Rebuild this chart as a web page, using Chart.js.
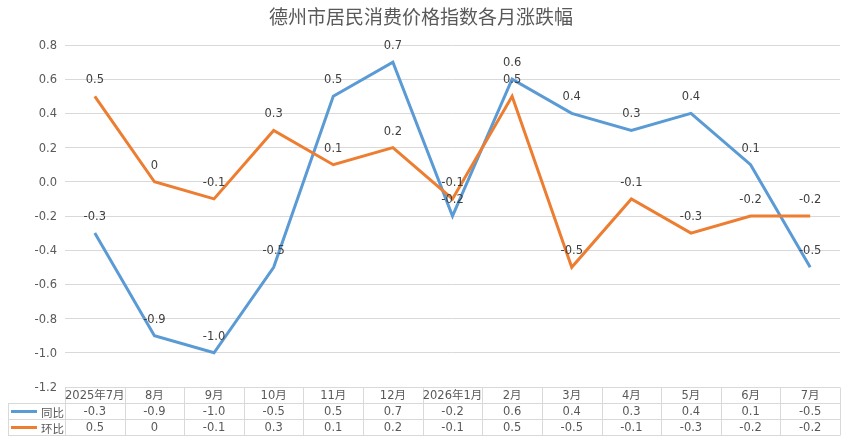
<!DOCTYPE html>
<html><head><meta charset="utf-8">
<script src="https://cdn.jsdelivr.net/npm/chart.js@4"></script>
<style>html,body{margin:0;padding:0;background:#fff}#w{width:849px;height:447px}</style>
</head><body><div id="w"><canvas id="c"></canvas></div>
<script>
const categories = ['2025年7月','8月','9月','10月','11月','12月','2026年1月','2月','3月','4月','5月','6月','7月'];
const yoy = [-0.3,-0.9,-1.0,-0.5,0.5,0.7,-0.2,0.6,0.4,0.3,0.4,0.1,-0.5];
const mom = [0.5,0,-0.1,0.3,0.1,0.2,-0.1,0.5,-0.5,-0.1,-0.3,-0.2,-0.2];
const yoyLabels = ['-0.3','-0.9','-1.0','-0.5','0.5','0.7','-0.2','0.6','0.4','0.3','0.4','0.1','-0.5'];
const momLabels = ['0.5','0','-0.1','0.3','0.1','0.2','-0.1','0.5','-0.5','-0.1','-0.3','-0.2','-0.2'];
const seriesNames = ['同比','环比'];
const title = '德州市居民消费价格指数各月涨跌幅';
const FONT = '"DejaVu Sans","Noto Sans CJK SC",sans-serif';
const BLUE = '#5B9BD5', ORANGE = '#ED7D31', GRID = '#d9d9d9', TXT = '#595959';

const extras = {
  id: 'extras',
  afterDatasetsDraw(chart) {
    const ctx = chart.ctx, xs = chart.scales.x, ys = chart.scales.y, ca = chart.chartArea;
    ctx.save();
    // title
    ctx.fillStyle = TXT;
    ctx.font = '19px "Noto Sans CJK SC",sans-serif';
    ctx.textAlign = 'center'; ctx.textBaseline = 'middle';
    ctx.fillText(title, 421, 17);
    // data labels
    ctx.font = '11.5px ' + FONT;
    ctx.fillStyle = '#404040';
    const lbls = [yoyLabels, momLabels];
    [yoy, mom].forEach((arr, s) => {
      arr.forEach((v, i) => {
        ctx.fillText(lbls[s][i], xs.getPixelForValue(i), ys.getPixelForValue(v) - 16);
      });
    });
    // table
    const n = categories.length;
    const colW = (ca.right - ca.left) / n;
    const top = Math.round(ca.bottom) + 0.5, rh = 16;
    ctx.strokeStyle = GRID; ctx.lineWidth = 1;
    ctx.beginPath();
    ctx.moveTo(ca.left, top); ctx.lineTo(ca.right, top);
    [1,2,3].forEach(r => { ctx.moveTo(8, top + r*rh); ctx.lineTo(ca.right, top + r*rh); });
    for (let i = 0; i <= n; i++) {
      const x = Math.round(ca.left + i*colW) + 0.5;
      ctx.moveTo(x, top); ctx.lineTo(x, top + 3*rh);
    }
    ctx.moveTo(8.5, top + rh); ctx.lineTo(8.5, top + 3*rh);
    ctx.stroke();
    ctx.fillStyle = TXT;
    ctx.font = '11.5px ' + FONT;
    ctx.textAlign = 'center';
    categories.forEach((c, i) => ctx.fillText(c, xs.getPixelForValue(i), top + rh/2 + 1));
    yoyLabels.forEach((c, i) => ctx.fillText(c, xs.getPixelForValue(i), top + rh*1.5 + 1));
    momLabels.forEach((c, i) => ctx.fillText(c, xs.getPixelForValue(i), top + rh*2.5 + 1));
    // legend keys
    [BLUE, ORANGE].forEach((col, s) => {
      const y = top + rh*(1.5 + s);
      ctx.strokeStyle = col; ctx.lineWidth = 3;
      ctx.beginPath(); ctx.moveTo(11, y); ctx.lineTo(37, y); ctx.stroke();
      ctx.textAlign = 'left';
      ctx.font = '11.5px "Noto Sans CJK SC",sans-serif';
      ctx.fillText(seriesNames[s], 41, y + 1);
    });
    ctx.restore();
  }
};

new Chart(document.getElementById('c'), {
  type: 'line',
  data: {
    labels: categories,
    datasets: [
      { label: seriesNames[0], data: yoy, borderColor: BLUE, borderWidth: 3, pointRadius: 0, tension: 0, order: 1 },
      { label: seriesNames[1], data: mom, borderColor: ORANGE, borderWidth: 3, pointRadius: 0, tension: 0, order: 0 }
    ]
  },
  options: {
    responsive: true, maintainAspectRatio: false, animation: false,
    layout: { padding: { left: 0, right: 9, top: 45, bottom: 60 } },
    plugins: { legend: { display: false }, tooltip: { enabled: false }, title: { display: false } },
    scales: {
      x: { display: false, offset: true },
      y: {
        min: -1.2, max: 0.8,
        afterFit(s) { s.width = 65; },
        border: { display: false },
        grid: { color: GRID, drawTicks: false },
        ticks: { stepSize: 0.2, padding: 8, labelOffset: 1, color: TXT, font: { size: 11.5, family: FONT },
          callback: v => (Math.abs(v) < 1e-9 ? 0 : v).toFixed(1) }
      }
    }
  },
  plugins: [extras]
});
</script></body></html>
